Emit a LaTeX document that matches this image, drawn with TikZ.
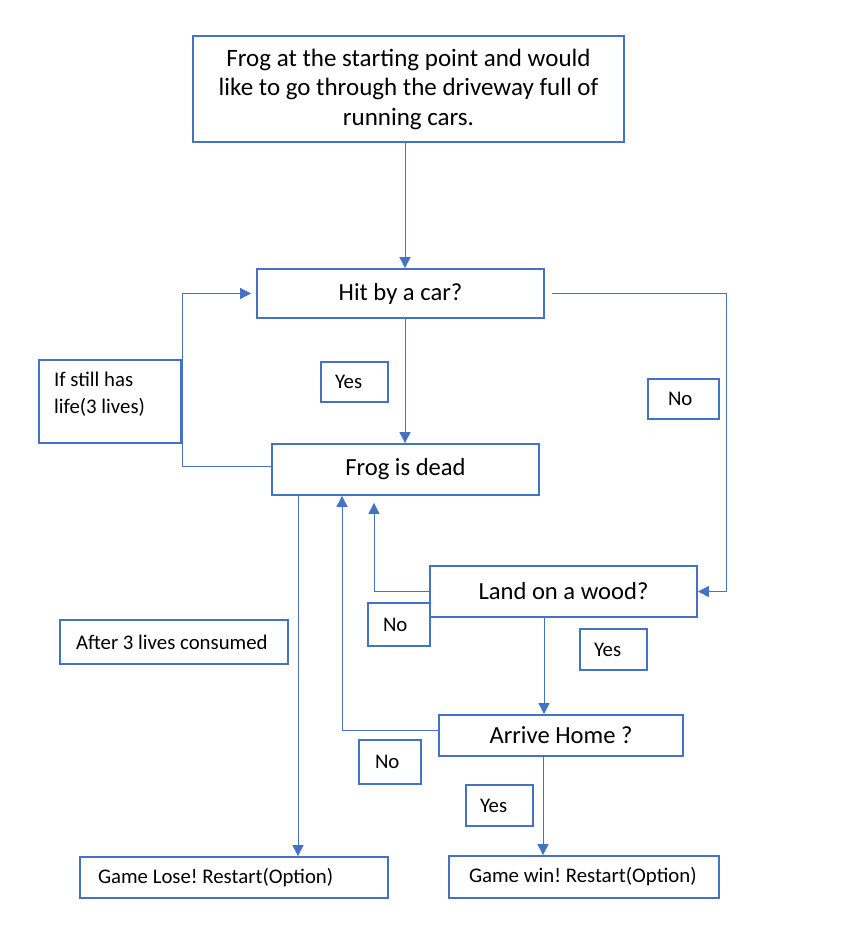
\documentclass[tikz,border=0pt]{standalone}
\usepackage{fontspec}
\setmainfont{Carlito}
\usetikzlibrary{arrows.meta,calc}
\definecolor{bl}{HTML}{4472C4}
\frenchspacing
\tikzset{
  box/.style={draw=bl, line width=1.8pt, align=center, inner sep=0pt,
    font=\fontsize{24.6}{30}\selectfont},
  lbox/.style={draw=bl, line width=1.8pt, align=flush left, inner ysep=0pt,
    font=\fontsize{20.8}{27}\selectfont},
  ltext/.style={anchor=north west, align=flush left, inner sep=0pt,
    font=\fontsize{20.8}{27}\selectfont},
  arr/.style={draw=bl, line width=0.9pt, -{Triangle[length=11pt,width=11pt]}},
}
\begin{document}
\begin{tikzpicture}[x=1pt,y=-1pt]
\fill[white] (0,0) rectangle (845,931);
\useasboundingbox (0,0) rectangle (845,931);
% main boxes
\node[box, minimum width=431, minimum height=106, font=\fontsize{25}{29.5}\selectfont] (start) at (408.5,89)
  {Frog at the starting point and would\\like to go through the driveway full of\\running cars.};
\node[box, minimum width=287, minimum height=49] (hit) at (400.5,293.5) {Hit by a car?};
\node[box, minimum width=267, minimum height=51] (dead) at (405.5,469.5) {Frog is dead};
\node[box, minimum width=267, minimum height=51] (land) at (563.5,591.5) {Land on a wood?};
\node[box, minimum width=244, minimum height=41] (home) at (561,735.5) {Arrive Home ?};
\node[lbox, inner xsep=18pt, text width=272, minimum height=41] (lose) at (234,877.5) {\mbox{Game Lose! Restart(Option)}};
\node[lbox, inner xsep=20pt, text width=230, minimum height=42] (win) at (584,877) {\mbox{Game win! Restart(Option)}};
% label boxes
\node[draw=bl, line width=1.8pt, minimum width=142, minimum height=83, inner sep=0pt] (life) at (110,401.5) {};
\node[ltext] (lifetext) at (54,372) {If still has\\life(3 lives)};
\node[lbox, inner xsep=14pt, text width=39, minimum height=40] (yes1) at (354.5,382) {Yes};
\node[lbox, inner xsep=20pt, text width=31, minimum height=40] (no1) at (683.5,399) {No};
\node[lbox, inner xsep=15pt, text width=32, minimum height=43] (no2) at (399,624.5) {No};
\node[lbox, inner xsep=14pt, text width=39, minimum height=41] (yes2) at (613.5,649.5) {Yes};
\node[lbox, inner xsep=16pt, text width=30, minimum height=44] (no3) at (390,762) {No};
\node[lbox, inner xsep=14pt, text width=39, minimum height=41] (yes3) at (499.5,805.5) {Yes};
\node[lbox, inner xsep=16pt, text width=196, minimum height=44] (after) at (174,642) {\mbox{After 3 lives consumed}};
% connectors
\coordinate (c1) at (405,0);
\coordinate (c2) at (544,0);
\coordinate (c3) at (298,0);
\coordinate (c4) at (543,0);
\draw[arr] (start.south -| c1) -- (hit.north -| c1);
\draw[arr] (hit.south -| c1) -- (dead.north -| c1);
\draw[arr, shorten >=5pt] ([yshift=3.5pt]dead.west) -| ([xshift=-74pt]hit.west) -- (hit.west);
\draw[arr, shorten <=7pt] (hit.east) -| ([xshift=29pt]land.east) -- (land.east);
\draw[arr, shorten >=7pt] (land.west) -| ([xshift=-31.5pt]dead.south);
\draw[arr] (land.south -| c2) -- (home.north -| c2);
\draw[arr] ([yshift=5.5pt]home.west) -| ([xshift=-63.5pt]dead.south);
\draw[arr] (dead.south -| c3) -- (lose.north -| c3);
\draw[arr] (home.south -| c4) -- (win.north -| c4);
\end{tikzpicture}
\end{document}
